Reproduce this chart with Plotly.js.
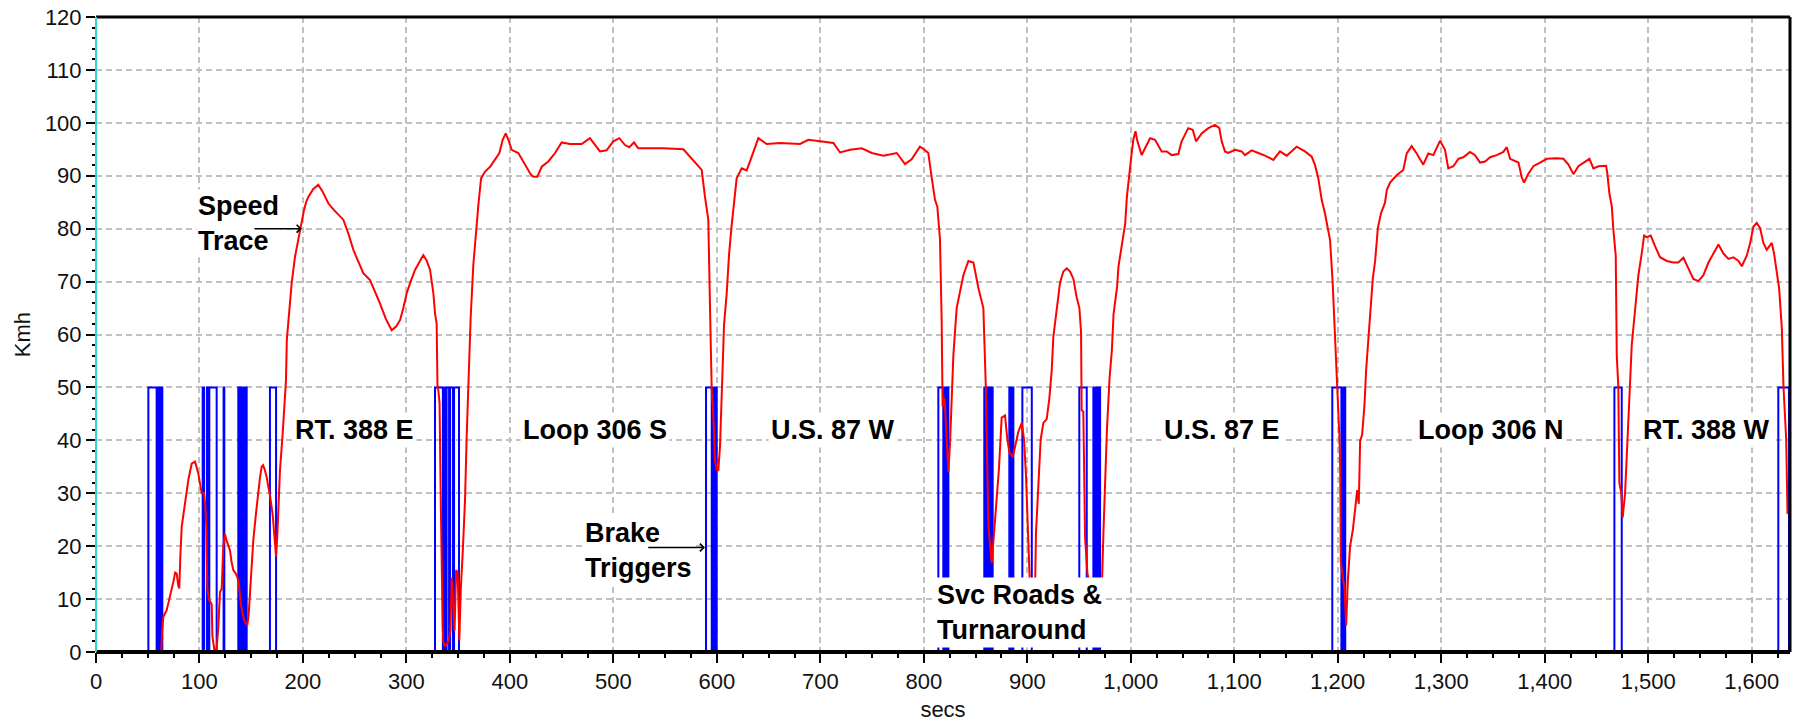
<!DOCTYPE html>
<html>
<head>
<meta charset="utf-8">
<script src="https://cdn.plot.ly/plotly-3.0.1.min.js"></script>
<style>
html,body{margin:0;padding:0;background:#fff;}
#chart{width:1798px;height:723px;}
</style>
</head>
<body>
<div id="chart"></div>
<script>
// Speed trace (secs, Kmh)
var speedTime = [0,63,63.9,65,68.3,71.5,74.7,76.5,78.0,79.5,80.5,81.5,82.8,84.5,86.0,89.2,92.5,95.7,98.9,102.1,104.4,105.5,106.5,107.6,109,111.8,112.5,114.3,116.5,118.2,119.8,121.5,123,124.5,126.3,128,129.5,131,132.7,134.5,136.5,138,140,143,146.2,147.5,149.5,152,154.6,156.9,158.5,160.1,161.5,163.3,165,166.5,168.2,170.7,172.3,174,175.2,176.2,177.8,180.4,182.6,183.6,184.4,185.8,187.5,189.1,192.3,195.5,198.8,201,203,205.2,210,214.8,219,224.5,230,235,239,244,248.7,253,258.3,264.8,270,274.4,280,285.7,290,293.8,297,300.2,304,308.3,312,316.3,319.5,322.8,326,327.6,329.2,330,330.8,332,333,334,335,335.6,337,340.5,342.5,343.7,345,346.5,348,349.5,351.1,352.5,354.4,356.6,358.2,359.8,362.1,364.6,367.2,369.5,372.1,376,380.8,385.6,389.8,393,395.9,398.5,401.7,408.1,412,416.2,420,422.6,426.5,430.7,437.1,443.6,450,458,469.3,477.3,482,487,493.4,499.9,505.7,511.2,515.4,519.9,524,548.2,567.6,574,580.5,585.3,588.5,591.7,593.4,595,596.5,598.2,600,601.4,603,604.6,606.9,609.5,611.7,614.3,615.9,619.1,624,628.8,632,635.2,640.1,648.1,661,680.4,688.3,712.6,719,728.7,740,749.7,760.8,773.8,781.8,788.2,796.2,800,804.3,807.5,810.8,813,815.6,817.2,818.1,820,822,823.7,825.3,826.9,828.5,831.7,835,838.2,843,847.9,852.7,857.5,859.8,862.4,865.6,867.8,870.4,872.6,875.2,878.4,880.7,882.6,885.9,888.1,891.3,894.6,896.8,898.7,901,902.6,905,907.5,908.3,910.6,912.9,915.5,918.7,921.2,923.6,925.1,926.8,929,931.6,934.8,938.1,941.3,944.5,947.7,950.3,951.9,952.5,954.1,955.8,958,962.3,968,972,973.6,975.2,976.9,979.4,981.7,983.3,986.7,988.1,991.4,994.6,996.2,998.5,1000.1,1002.4,1004.5,1006.4,1008.5,1010.5,1013.7,1018.6,1023.4,1029.8,1034.7,1039.5,1045.9,1049.1,1055.5,1059.8,1063,1068.5,1074.9,1081.4,1085.5,1087.8,1091,1094.2,1100.7,1107.1,1110.3,1116.8,1123.2,1129.7,1137.7,1144.2,1150.6,1160.3,1168.3,1174.8,1178,1181.2,1184.4,1187.6,1190.8,1192.5,1195,1197.3,1199,1201.5,1202.3,1202.9,1205,1206.5,1208.1,1209.7,1211.9,1214.5,1216.8,1218.7,1220.3,1221.6,1223.5,1225.8,1227.4,1230,1232.2,1233.8,1236.1,1238.7,1241.9,1245.6,1247.4,1250.5,1256.9,1263.3,1266.6,1271.4,1276.3,1282.6,1287.5,1292.3,1298.8,1303.6,1306.8,1311.7,1316.5,1321.3,1327.8,1332.6,1337.5,1342.3,1347.2,1353.6,1360,1363.3,1366.5,1371.3,1374.6,1377.8,1380,1384.2,1389,1395.5,1401.9,1411.6,1418,1422.9,1427.7,1432.5,1437.4,1443.2,1447,1451.9,1459.3,1460.5,1462.5,1464.8,1466.3,1468.6,1469.6,1471.1,1472.1,1474,1475.3,1477.6,1479.2,1480.8,1482.4,1484.1,1486.3,1488.2,1490.5,1493.7,1496,1498.5,1502.4,1506.6,1511.4,1517.9,1524.3,1529.1,1534,1538.8,1543.6,1548.5,1553.3,1558.2,1563,1567.8,1572.7,1577.5,1582.3,1587.2,1590.4,1595.2,1598.5,1601.7,1604.9,1608.1,1611.3,1614.5,1617.1,1619.4,1621.6,1624.2,1626.5,1629.1,1630.7,1633.3,1634.6];
var speedKmh = [0,0,4.1,6.6,7.9,10.4,13.2,15,14.8,12.5,12.0,18,23.6,26,28.1,32.5,35.6,36,33.7,30,30,28,24,12,10,9,3,0.5,0.5,4.7,11.3,12,19.9,22.3,21,20,19.2,17,15.5,15,14.2,13,9,6,5,7,13.6,21.1,26.2,30.6,33,35,35.3,34.3,33,31.2,29.5,26,22,18,22,26.2,34.4,41.3,47.6,51.4,59,62.7,66,69.7,74.7,77.9,81.7,83.5,85,86,87.5,88.3,87,84.8,83.5,82.5,81.7,79,76,74,71.6,70.3,68,65.9,63,60.8,61.5,62.7,65,67.8,70,72.2,73.5,75,74,72.2,67.8,64,62,50,49.5,47,30.9,13.6,5,2,1,2,4,14,10,4,15.5,15,2.2,11.7,18.9,28.7,40.7,52,63.4,73.1,79.4,84.5,89.5,90.8,91.7,93,94.3,96.8,98,96.8,94.9,94.3,93,91.7,90.3,89.8,89.8,91.7,92.7,94.3,96.3,96,96,97.1,95.8,94.6,94.8,96.5,97.1,95.8,95.4,96.3,95.2,95.2,95,93.6,92,91.1,86,81.7,64.6,49.5,45,36,34.4,34.4,38.8,49.5,61.8,67.8,75,80.7,83.5,89.5,91.4,91,92.7,94.6,97.1,96,96.2,96,96.8,96.2,94.4,94.9,95.2,94.3,93.8,94.3,92.2,93.1,95.5,95,94.3,89.8,85.4,84.2,77.9,62.7,46.4,48,40,34,39.5,47.4,56,65,68.1,71.2,73.9,73.6,68.8,65,50.5,23.7,16.8,22.3,29.2,34.7,44.3,44.7,40.2,37.8,36.8,38.8,41.6,43.3,40.2,33.3,20.3,12,10,12,22.3,30.6,40.2,43.3,44,47.8,53.3,59.5,62.2,66.3,69.8,71.9,72.5,71.9,70.5,67,65,60.5,45.7,45.4,21.6,15,10,10,12,23,32,41.9,51.6,57.1,63.8,69,72.9,77.5,81,86,89.5,93,96.8,98.4,96.5,95,93.9,95.2,97.1,96.8,94.6,94.6,93.9,94.1,96.5,99,98.7,96.5,98,99,99.6,99,96.5,94.6,94.3,94.9,94.6,93.9,94.8,94.3,93.8,93,94.6,93.8,95.5,94.6,93.6,92,89.5,85.5,82.9,79.6,77.9,70,60.2,50,41,35,17,14,12,5,13.4,20,23,27,30.6,28,40,41,46.7,53.3,60.8,66.7,70.5,73.9,80.1,83,84.9,87.3,88.7,90.1,91.1,94.2,95.6,94.2,92.1,94.2,93.9,96.6,94.9,91.4,91.8,93.2,93.5,94.5,93.9,92.5,92.7,93.5,93.9,94.5,95.4,93.2,92.8,92.5,89.7,88.7,90.4,91.8,92.5,93.2,93.3,93.2,92.1,90.3,91.8,92.5,93.2,91.4,91.8,91.9,90.4,86.6,84.2,79.8,74.9,56,50.2,31.9,30,25.4,29.9,36.8,44.7,51.9,58.1,62.6,66.7,71.2,75.3,78.7,78.4,78.7,76.7,74.6,73.9,73.6,73.6,74.5,72.5,70.5,70.1,71.2,73.6,75.3,77,75.3,74.3,74.6,73.9,72.9,74.9,77.3,80.4,81.1,80.1,77.3,76,76.7,77.3,75.3,71.9,68.7,61.2,50.2,40.2,26.1];

// Brake trigger pulses: on / off times (secs); signal level when on
var brakeOn  = [50.6,59.2,60.5,61.8,63.1,103.1,107.3,109.5,123.3,137.5,138.8,140.1,141.4,142.7,144.0,145.2,168.1,327.6,336.0,338.8,342.2,346.0,589.5,595.7,597.0,598.3,599.4,814,819.4,820.7,822.0,823.2,858.4,860.6,861.9,863.2,864.5,865.8,882.6,883.9,885.2,895.2,950.2,963.8,965.1,966.4,967.7,969.0,1194.7,1204.2,1205.5,1206.6,1467.3,1625.7,1636.5];
var brakeOff = [58.6,59.9,61.2,62.5,64.1,104.5,108.2,116.6,124.0,138.2,139.5,140.8,142.1,143.4,144.7,145.6,174.0,335.2,337.8,341.2,345.0,350.8,595.0,596.4,597.7,599.0,599.8,818.8,820.1,821.4,822.7,823.7,859.0,861.3,862.6,863.9,865.2,866.5,883.3,884.6,886.5,904.3,957.4,964.5,965.8,967.1,968.4,970.3,1203.5,1204.9,1206.2,1207.2,1474.4,1636.0,1637.5];
var brakeLevel = 50;

// Axis ticks
var yTicks = [0,10,20,30,40,50,60,70,80,90,100,110,120];
var xTicks = [0,100,200,300,400,500,600,700,800,900,1000,1100,1200,1300,1400,1500,1600];
var xTickText = ['0','100','200','300','400','500','600','700','800','900','1,000','1,100','1,200','1,300','1,400','1,500','1,600'];

// Road section labels
var sectionNames = ['RT. 388 E','Loop 306 S','U.S. 87 W','U.S. 87 E','Loop 306 N','RT. 388 W'];
var sectionX = [250,482,712,1088,1348,1556];
var sectionY = [42,42,42,42,42,42];

// build step data for brake signal
var bx = [0], by = [0];
for (var i = 0; i < brakeOn.length; i++) {
  bx.push(brakeOn[i], brakeOn[i], brakeOff[i], brakeOff[i]);
  by.push(0, brakeLevel, brakeLevel, 0);
}
bx.push(1637); by.push(0);

var FONT = 'Liberation Sans, Arial, sans-serif';

var traces = [
  {x: bx, y: by, type: 'scatter', mode: 'lines', line: {color: '#0000FF', width: 2}, hoverinfo: 'skip'},
  {x: speedTime, y: speedKmh, type: 'scatter', mode: 'lines', line: {color: '#FF0000', width: 2}, hoverinfo: 'skip'}
];

var annotations = [];
for (var k = 0; k < sectionNames.length; k++) {
  annotations.push({x: sectionX[k], y: sectionY[k], xref: 'x', yref: 'y', text: '<b>' + sectionNames[k] + '</b>',
    showarrow: false, xanchor: 'center', yanchor: 'middle', bgcolor: '#FFFFFF', borderpad: 2,
    font: {family: FONT, size: 27, color: '#000'}});
}
annotations.push({x: 96.3, y: 80.9, xref: 'x', yref: 'y', text: '<b>Speed</b><br><b>Trace</b>', align: 'left',
  showarrow: false, xanchor: 'left', yanchor: 'middle', bgcolor: '#FFFFFF', borderpad: 1,
  font: {family: FONT, size: 27, color: '#000'}});
annotations.push({x: 470.3, y: 19.2, xref: 'x', yref: 'y', text: '<b>Brake</b><br><b>Triggers</b>', align: 'left',
  showarrow: false, xanchor: 'left', yanchor: 'middle', bgcolor: '#FFFFFF', borderpad: 1,
  font: {family: FONT, size: 27, color: '#000'}});
annotations.push({x: 810.1, y: 7.5, xref: 'x', yref: 'y', text: '<b>Svc Roads &amp;</b><br><b>Turnaround</b>', align: 'left',
  showarrow: false, xanchor: 'left', yanchor: 'middle', bgcolor: '#FFFFFF', borderpad: 2,
  font: {family: FONT, size: 27, color: '#000'}});
// arrows
annotations.push({x: 198.8, y: 80, ax: 151.7, ay: 80, xref: 'x', yref: 'y', axref: 'x', ayref: 'y', text: '',
  showarrow: true, arrowhead: 4, arrowsize: 1, arrowwidth: 1.5, arrowcolor: '#000', standoff: 0, startstandoff: 0});
annotations.push({x: 588.5, y: 19.75, ax: 532.2, ay: 19.75, xref: 'x', yref: 'y', axref: 'x', ayref: 'y', text: '',
  showarrow: true, arrowhead: 4, arrowsize: 1, arrowwidth: 1.5, arrowcolor: '#000', standoff: 0, startstandoff: 0});

var layout = {
  width: 1798, height: 723,
  margin: {l: 96, r: 8, t: 17, b: 71, pad: 0},
  paper_bgcolor: '#FFFFFF', plot_bgcolor: '#FFFFFF',
  showlegend: false,
  font: {family: FONT, size: 22, color: '#111'},
  xaxis: {
    range: [0, 1637], tickvals: xTicks, ticktext: xTickText,
    ticks: 'outside', ticklen: 10, tickwidth: 2, tickcolor: '#000',
    showline: false, zeroline: false,
    showgrid: true, gridcolor: '#C0C0C0', gridwidth: 2, griddash: '6px,4px',
    minor: {dtick: 25, tick0: 0, ticks: 'outside', ticklen: 5, tickwidth: 2, tickcolor: '#000', showgrid: false},
    tickfont: {family: FONT, size: 22, color: '#111'},
    title: {text: 'secs', font: {family: FONT, size: 22, color: '#111'}, standoff: 8},
    automargin: false, fixedrange: true
  },
  yaxis: {
    range: [0, 120], tickvals: yTicks,
    ticks: 'outside', ticklen: 9, tickwidth: 2, tickcolor: '#000',
    showline: false, zeroline: false,
    showgrid: true, gridcolor: '#C0C0C0', gridwidth: 2, griddash: '6px,4px',
    minor: {dtick: 2, tick0: 0, ticks: 'outside', ticklen: 3, tickwidth: 2, tickcolor: '#000', showgrid: false},
    tickfont: {family: FONT, size: 22, color: '#111'},
    title: {text: 'Kmh', font: {family: FONT, size: 22, color: '#111'}, standoff: 8},
    automargin: false, fixedrange: true
  },
  shapes: [
    {type: 'line', xref: 'paper', yref: 'paper', x0: 0, x1: 1, y0: 1, y1: 1, line: {color: '#000', width: 3}, layer: 'above'},
    {type: 'line', xref: 'paper', yref: 'paper', x0: 1, x1: 1, y0: 0, y1: 1, line: {color: '#000', width: 3}, layer: 'above'},
    {type: 'line', xref: 'paper', yref: 'paper', x0: 0, x1: 1, y0: 0, y1: 0, line: {color: '#000', width: 4}, layer: 'above'},
    {type: 'line', xref: 'paper', yref: 'paper', x0: 0, x1: 0, y0: 0, y1: 1, line: {color: '#2ED3D3', width: 2}, layer: 'above'}
  ],
  annotations: annotations
};

Plotly.newPlot('chart', traces, layout, {displayModeBar: false, staticPlot: true});
</script>
</body>
</html>
